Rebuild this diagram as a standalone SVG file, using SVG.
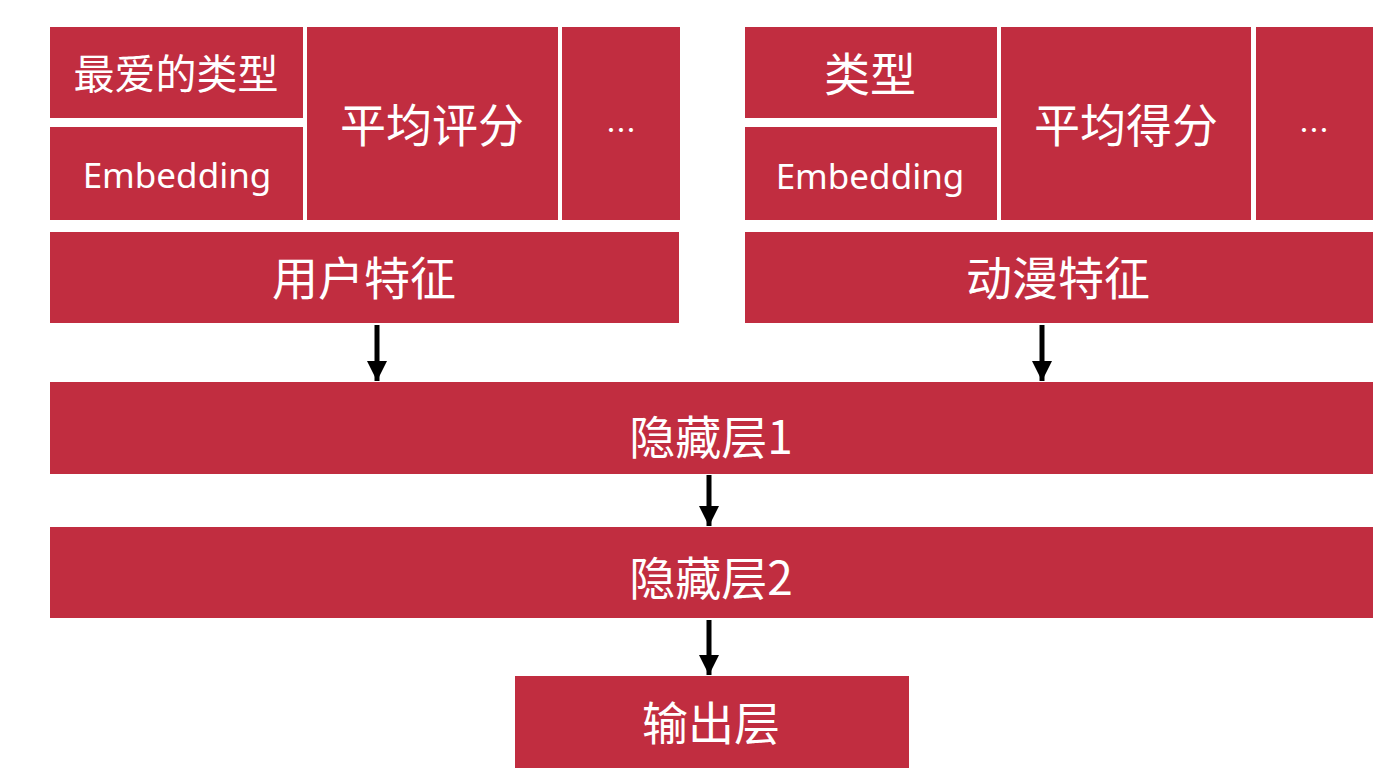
<svg xmlns="http://www.w3.org/2000/svg" width="1400" height="778" viewBox="0 0 1400 778">
  <style>
    .box { fill: #C12D40; }
    .t { fill: #FFFFFF; font-family: "Noto Sans CJK SC", "Noto Sans", sans-serif; text-anchor: middle; dominant-baseline: central; }
    .big { font-size: 46px; }
    .mid { font-size: 41px; }
    .emb { font-size: 35px; font-family: "Noto Sans", "Open Sans", sans-serif; }
    .dots { font-size: 30px; }
    .conn { stroke: #000; stroke-width: 5; fill: none; }
  </style>
  <defs>
    <marker id="ah" viewBox="0 0 10 10" refX="10" refY="5" markerWidth="4" markerHeight="4" orient="auto" markerUnits="strokeWidth">
      <path d="M0,0 L10,5 L0,10 Z" fill="#000"/>
    </marker>
  </defs>
  <rect width="1400" height="778" fill="#FFFFFF"/>

  <g id="user-fav-type">
    <rect class="box" x="50" y="27" width="253" height="91"/>
    <text class="t mid" x="176" y="71">最爱的类型</text>
  </g>
  <g id="user-embedding">
    <rect class="box" x="50" y="127" width="253" height="93"/>
    <text class="t emb" x="177" y="174">Embedding</text>
  </g>
  <g id="user-avg-rating">
    <rect class="box" x="307" y="27" width="251" height="193"/>
    <text class="t big" x="432" y="122">平均评分</text>
  </g>
  <g id="user-more">
    <rect class="box" x="562" y="27" width="118" height="193"/>
    <text class="t dots" x="621" y="128">…</text>
  </g>
  <g id="user-features">
    <rect class="box" x="50" y="232" width="629" height="91"/>
    <text class="t big" x="364" y="275">用户特征</text>
  </g>

  <g id="anime-type">
    <rect class="box" x="745" y="27" width="252" height="91"/>
    <text class="t big" x="870" y="71">类型</text>
  </g>
  <g id="anime-embedding">
    <rect class="box" x="745" y="127" width="252" height="93"/>
    <text class="t emb" x="870" y="175">Embedding</text>
  </g>
  <g id="anime-avg-score">
    <rect class="box" x="1001" y="27" width="250" height="193"/>
    <text class="t big" x="1126" y="122">平均得分</text>
  </g>
  <g id="anime-more">
    <rect class="box" x="1256" y="27" width="117" height="193"/>
    <text class="t dots" x="1314" y="128">…</text>
  </g>
  <g id="anime-features">
    <rect class="box" x="745" y="232" width="628" height="91"/>
    <text class="t big" x="1058" y="275">动漫特征</text>
  </g>

  <g id="hidden1">
    <rect class="box" x="50" y="382" width="1323" height="92"/>
    <text class="t big" x="711" y="434">隐藏层1</text>
  </g>
  <g id="hidden2">
    <rect class="box" x="50" y="527" width="1323" height="91"/>
    <text class="t big" x="711" y="575">隐藏层2</text>
  </g>
  <g id="output">
    <rect class="box" x="515" y="676" width="394" height="92"/>
    <text class="t big" x="711" y="720">输出层</text>
  </g>

  <g id="connectors">
    <line class="conn" x1="377" y1="325" x2="377" y2="381" marker-end="url(#ah)"/>
    <line class="conn" x1="1042" y1="325" x2="1042" y2="381" marker-end="url(#ah)"/>
    <line class="conn" x1="709" y1="475" x2="709" y2="526" marker-end="url(#ah)"/>
    <line class="conn" x1="709" y1="620" x2="709" y2="675" marker-end="url(#ah)"/>
  </g>
</svg>
